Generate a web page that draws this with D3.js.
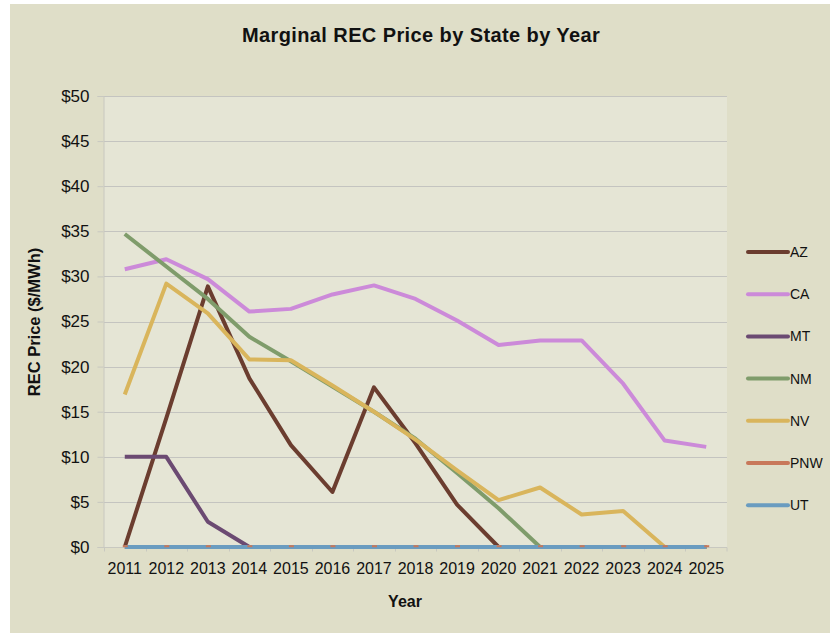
<!DOCTYPE html>
<html>
<head>
<meta charset="utf-8">
<script src="https://cdn.jsdelivr.net/npm/d3@7"></script>
<style>
  html, body { margin: 0; padding: 0; background: #fff; }
  svg { display: block; font-family: "Liberation Sans", Arial, sans-serif; }
</style>
</head>
<body>
<svg id="chart"></svg>
<script>
// values
const years = ["2011","2012","2013","2014","2015","2016","2017","2018","2019","2020","2021","2022","2023","2024","2025"];
const states = ["AZ", "CA", "MT", "NM", "NV", "PNW", "UT"];
const stateColors = ["#6b3d2f", "#cc8ad9", "#6b4a72", "#7f9c6b", "#d9b55c", "#c8785a", "#6a9cc0"];
const yTicks = [0, 5, 10, 15, 20, 25, 30, 35, 40, 45, 50];

const az  = [0, 14.3, 28.9, 18.7, 11.3, 6.1, 17.7, 11.5, 4.7, 0, 0, 0, 0, 0, 0];
const ca  = [30.8, 31.9, 29.7, 26.1, 26.4, 28.0, 29.0, 27.5, 25.1, 22.4, 22.9, 22.9, 18.1, 11.8, 11.1];
const mt  = [10, 10, 2.8, 0, 0, 0, 0, 0, 0, 0, 0, 0, 0, 0, 0];
const nm  = [34.7, 31.1, 27.5, 23.3, 20.6, 17.8, 15.0, 12.0, 8.2, 4.3, 0, 0, 0, 0, 0];
const nv  = [16.9, 29.2, 25.9, 20.8, 20.7, 17.9, 15.0, 11.9, 8.5, 5.2, 6.6, 3.6, 4.0, 0, 0];
const pnw = [0, 0, 0, 0, 0, 0, 0, 0, 0, 0, 0, 0, 0, 0, 0];
const ut  = [0, 0, 0, 0, 0, 0, 0, 0, 0, 0, 0, 0, 0, 0, 0];

const seriesValues = [az, ca, mt, nm, nv, pnw, ut];

const width = 830, height = 633;
const margin = { left: 104, right: 103, top: 96, bottom: 86 };

const svg = d3.select("#chart")
  .attr("width", width)
  .attr("height", height);

// background panel (white strip at left and top as in the picture)
svg.append("rect")
  .attr("x", 10).attr("y", 4)
  .attr("width", width - 10).attr("height", height - 4)
  .attr("fill", "#dfdec8");

const x = d3.scaleBand()
  .domain(years)
  .range([margin.left, width - margin.right]);

const y = d3.scaleLinear()
  .domain([0, 50])
  .range([height - margin.bottom, margin.top]);

const color = d3.scaleOrdinal().domain(states).range(stateColors);

// plot area
svg.append("rect")
  .attr("x", margin.left).attr("y", margin.top)
  .attr("width", x.range()[1] - margin.left)
  .attr("height", y(0) - margin.top)
  .attr("fill", "#e5e5d5");

// gridlines
svg.append("g")
  .selectAll("line")
  .data(yTicks.filter(d => d > 0))
  .join("line")
  .attr("x1", margin.left).attr("x2", x.range()[1])
  .attr("y1", d => Math.round(y(d)) + 0.5).attr("y2", d => Math.round(y(d)) + 0.5)
  .attr("stroke", "#c4c4c0")
  .attr("stroke-width", 1.2);

// y axis
const yAxis = svg.append("g")
  .attr("transform", `translate(${margin.left - 0.5},0)`)
  .call(d3.axisLeft(y).tickValues(yTicks).tickSize(6).tickPadding(8).tickFormat(d => "$" + d));
yAxis.select(".domain").attr("stroke", "#c8c8c0");
yAxis.selectAll(".tick line").attr("stroke", "#c8c8c0");
yAxis.selectAll("text").attr("font-size", 17).attr("fill", "#111");

// x axis
const xAxis = svg.append("g")
  .attr("transform", `translate(0,${Math.round(y(0)) + 0.5})`)
  .call(d3.axisBottom(x).tickSize(0).tickPadding(15));
xAxis.select(".domain").attr("stroke", "#c8c8c0").attr("d", `M${margin.left},0H${x.range()[1]}V4`);
xAxis.selectAll("text").attr("font-size", 16).attr("fill", "#111");
xAxis.append("g")
  .selectAll("line")
  .data(years)
  .join("line")
  .attr("x1", d => Math.round(x(d)) + 0.5).attr("x2", d => Math.round(x(d)) + 0.5)
  .attr("y1", 0).attr("y2", 4)
  .attr("stroke", "#c8c8c0");

// lines
const line = d3.line()
  .x((d, i) => x(years[i]) + x.bandwidth() / 2)
  .y(d => y(d));

const lineData = states.map((s, i) => ({ state: s, values: seriesValues[i] }));

svg.append("g")
  .attr("fill", "none")
  .attr("stroke-width", 4)
  .attr("stroke-linejoin", "round")
  .selectAll("path")
  .data(lineData)
  .join("path")
  .attr("stroke", d => color(d.state))
  .attr("d", d => line(d.values));

// PNW peeks out at each point from under UT
svg.append("g")
  .selectAll("line")
  .data(pnw)
  .join("line")
  .attr("x1", (d, i) => x(years[i]) + x.bandwidth() / 2 - 2)
  .attr("x2", (d, i) => x(years[i]) + x.bandwidth() / 2 + 3)
  .attr("y1", d => y(d) - 0.8).attr("y2", d => y(d) - 0.8)
  .attr("stroke", color("PNW"))
  .attr("stroke-width", 2);

// legend
const legend = svg.append("g")
  .attr("transform", "translate(748,252)");
states.forEach((s, i) => {
  const g = legend.append("g").attr("transform", `translate(0,${i * 42.2})`);
  g.append("line")
    .attr("x1", 0).attr("x2", 40)
    .attr("stroke", color(s))
    .attr("stroke-width", 4)
    .attr("stroke-linecap", "round");
  g.append("text")
    .attr("x", 42)
    .attr("dy", "0.36em")
    .attr("font-size", 14)
    .attr("fill", "#111")
    .text(s);
});

// title and axis titles
svg.append("text")
  .attr("x", 421).attr("y", 42)
  .attr("text-anchor", "middle")
  .attr("font-size", 20)
  .attr("letter-spacing", 0.4)
  .attr("font-weight", "bold")
  .attr("fill", "#111")
  .text("Marginal REC Price by State by Year");

svg.append("text")
  .attr("x", 405).attr("y", 607)
  .attr("text-anchor", "middle")
  .attr("font-size", 16)
  .attr("font-weight", "bold")
  .attr("fill", "#111")
  .text("Year");

svg.append("text")
  .attr("transform", "translate(40,322) rotate(-90)")
  .attr("text-anchor", "middle")
  .attr("font-size", 16.5)
  .attr("font-weight", "bold")
  .attr("fill", "#111")
  .text("REC Price ($/MWh)");
</script>
</body>
</html>
